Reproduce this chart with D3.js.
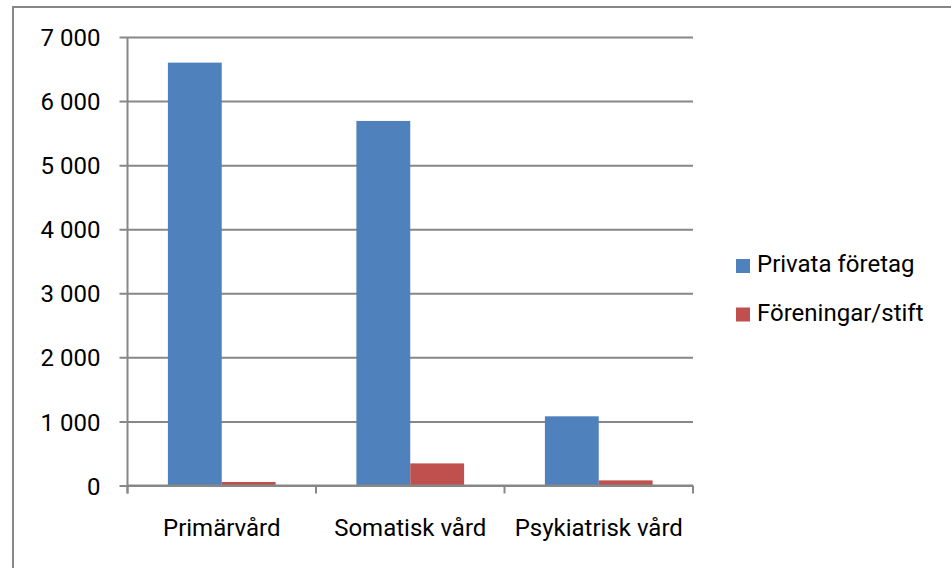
<!DOCTYPE html>
<html>
<head>
<meta charset="utf-8">
<script src="https://cdn.jsdelivr.net/npm/d3@7"></script>
<style>
  html, body { margin: 0; padding: 0; background: #fff; }
  svg { display: block; }
  text { font-family: Roboto, "Noto Sans", sans-serif; fill: #000; }
</style>
</head>
<body>
<svg id="chart" width="951" height="568"></svg>
<script>
const categories = ["Primärvård", "Somatisk vård", "Psykiatrisk vård"];
const seriesNames = ["Privata företag", "Föreningar/stift"];
const privataForetag = [6600, 5690, 1080];
const foreningarStift = [55, 345, 80];
const yTicks = [0, 1000, 2000, 3000, 4000, 5000, 6000, 7000];
const colors = ["#4F81BD", "#C0504D"];

const seriesValues = [privataForetag, foreningarStift];
const svg = d3.select("#chart");
const W = 951, H = 568;
const plot = { left: 127.5, right: 693, top: 37, bottom: 485.5 };

// Outer chart frame
svg.append("rect")
  .attr("x", 13).attr("y", 7)
  .attr("width", W + 10).attr("height", H + 10)
  .attr("fill", "#fff").attr("stroke", "#878787").attr("stroke-width", 2);

const x0 = d3.scaleBand().domain(categories).range([plot.left, plot.right]).paddingInner(0).paddingOuter(0);
const bandW = x0.bandwidth();
const barW = bandW / 3.5; // gap width 150%
const x1 = d3.scaleBand().domain(seriesNames).range([0, barW * 2]);
const y = d3.scaleLinear().domain([0, 7000]).range([plot.bottom, plot.top]);

const locale = d3.formatLocale({ decimal: ",", thousands: "\u00a0", grouping: [3], currency: ["", " kr"] });
const fmt = locale.format(",d");

// Gridlines + y tick marks
const yAxis = d3.axisLeft(y).tickValues(yTicks).tickFormat(fmt).tickSize(-(plot.right - plot.left)).tickPadding(0);
const gy = svg.append("g").attr("transform", `translate(${plot.left},0)`).call(yAxis);
gy.select(".domain").remove();
gy.selectAll(".tick line").attr("stroke", "#878787").attr("stroke-width", 2).attr("x1", -8);
gy.selectAll(".tick text")
  .attr("x", -27).attr("dy", "0.36em")
  .style("font-size", "24px").style("font-family", "Roboto, sans-serif").attr("fill", "#000");

// Bars
const groups = svg.append("g").selectAll("g")
  .data(categories).join("g")
  .attr("transform", d => `translate(${x0(d) + (bandW - barW * 2) / 2},0)`);
groups.selectAll("rect")
  .data((c, i) => seriesNames.map((s, j) => ({ s, j, v: seriesValues[j][i] })))
  .join("rect")
  .attr("x", d => x1(d.s))
  .attr("y", d => y(d.v))
  .attr("width", x1.bandwidth())
  .attr("height", d => plot.bottom - y(d.v))
  .attr("fill", d => colors[d.j]);

// Vertical axis line
svg.append("line")
  .attr("x1", plot.left).attr("x2", plot.left)
  .attr("y1", plot.top).attr("y2", plot.bottom + 8)
  .attr("stroke", "#878787").attr("stroke-width", 2);

// X axis
const xAxis = d3.axisBottom(x0).tickSize(0).tickPadding(0);
const gx = svg.append("g").attr("transform", `translate(0,${plot.bottom})`).call(xAxis);
gx.select(".domain").attr("stroke", "#878787").attr("stroke-width", 2).attr("d", `M${plot.left},0H${plot.right}`);
gx.selectAll(".tick text")
  .attr("y", 50).attr("dy", 0)
  .style("font-size", "24px").style("font-family", "Roboto, sans-serif").attr("fill", "#000");
// category boundary ticks
const bounds = categories.map(c => x0(c)).concat([plot.right]);
gx.selectAll("line.bound").data(bounds).join("line").attr("class", "bound")
  .attr("x1", d => d).attr("x2", d => d).attr("y1", 0).attr("y2", 8)
  .attr("stroke", "#878787").attr("stroke-width", 2);

// Legend
const legend = svg.append("g").attr("transform", "translate(736,259)");
const li = legend.selectAll("g").data(seriesNames).join("g")
  .attr("transform", (d, i) => `translate(0,${i * 48.5})`);
li.append("rect").attr("width", 14).attr("height", 14).attr("fill", (d, i) => colors[i]);
li.append("text").attr("x", 21).attr("y", 13).text(d => d)
  .style("font-size", "24px");
</script>
</body>
</html>
